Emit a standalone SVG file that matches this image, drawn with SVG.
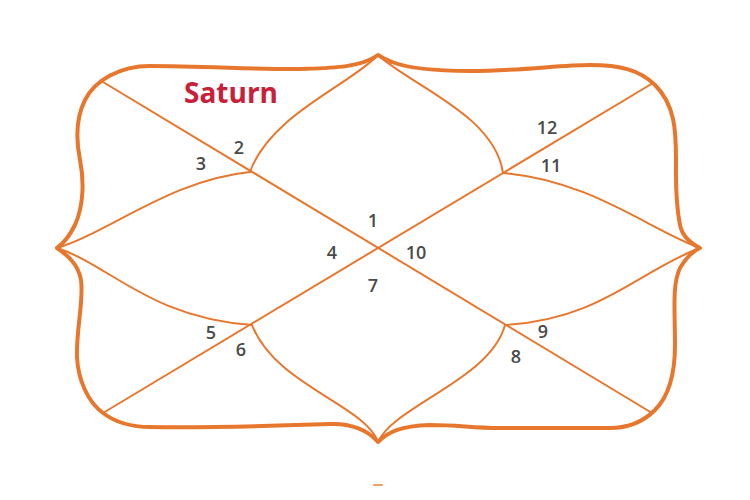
<svg xmlns="http://www.w3.org/2000/svg" width="750" height="500" viewBox="0 0 750 500">
<style>
.frame{fill:none;stroke:#E8772E;stroke-width:4;stroke-linejoin:round;stroke-linecap:round}
.ln{fill:none;stroke:#E8772E;stroke-width:2;stroke-linecap:round}
.num{font-family:"Open Sans","Liberation Sans",sans-serif;font-size:18px;font-weight:600;fill:#4a4a4a;text-anchor:middle}
.planet{font-family:"Open Sans","Liberation Sans",sans-serif;font-size:28px;font-weight:700;fill:#C9203A}
</style>
<rect width="750" height="500" fill="#ffffff"/>
<g id="frame">
<path class="frame" d="M378,55 C360,68 330,68 300,69 S200,66 150,66 C120,66 95,80 85,100 C76,118 76,140 80,160 C84,180 84,205 75,225 C70,235 64,243 57,248 C64,253 78,262 81,280 C84,300 76,330 77,357 C78,380 88,402 103,413 C115,422 130,427 150,427 C220,428 300,425 330,424 C350,423 368,430 378,442 C388,432 400,426 430,425 C460,425 470,428 500,428 L610,428 C630,428 645,420 655,410 C668,397 675,375 675,345 C675,310 672,285 680,268 C686,258 693,251 700,248 C690,243 682,235 680,225 C675,200 676,180 676,160 C676,130 675,105 655,85 C640,70 620,65 590,65 C560,65 520,71 470,71 C430,71 405,67 392,62 C386,60 381,57 378,55 Z"/>
</g>
<g id="connectors">
<line class="ln" x1="103" y1="82" x2="652" y2="413"/>
<line class="ln" x1="653" y1="83" x2="103" y2="413"/>
<path class="ln" d="M378,55 C350,85 270,115 250,172"/>
<path class="ln" d="M57,248 C110,232 170,180 250,172"/>
<path class="ln" d="M378,55 C410,85 495,115 503,173"/>
<path class="ln" d="M700,248 C650,230 590,180 503,173"/>
<path class="ln" d="M57,248 C110,265 150,318 252,325"/>
<path class="ln" d="M378,442 C365,405 275,385 252,325"/>
<path class="ln" d="M378,442 C395,405 490,380 505,325"/>
<path class="ln" d="M700,248 C640,270 600,320 505,325"/>
</g>
<g id="house-labels">
<text class="num" x="373" y="227">1</text>
<text class="num" x="239" y="154">2</text>
<text class="num" x="201" y="170">3</text>
<text class="num" x="332" y="259">4</text>
<text class="num" x="211" y="339">5</text>
<text class="num" x="241" y="356">6</text>
<text class="num" x="373" y="292">7</text>
<text class="num" x="516" y="363">8</text>
<text class="num" x="543" y="338">9</text>
<text class="num" x="416" y="259">10</text>
<text class="num" x="551" y="172">11</text>
<text class="num" x="547" y="134">12</text>
</g>
<g id="saturn">
<text class="planet" x="184" y="103">Saturn</text>
</g>
<line x1="374" y1="485" x2="382" y2="485" stroke="#F0A060" stroke-width="2" stroke-linecap="round"/>
</svg>
